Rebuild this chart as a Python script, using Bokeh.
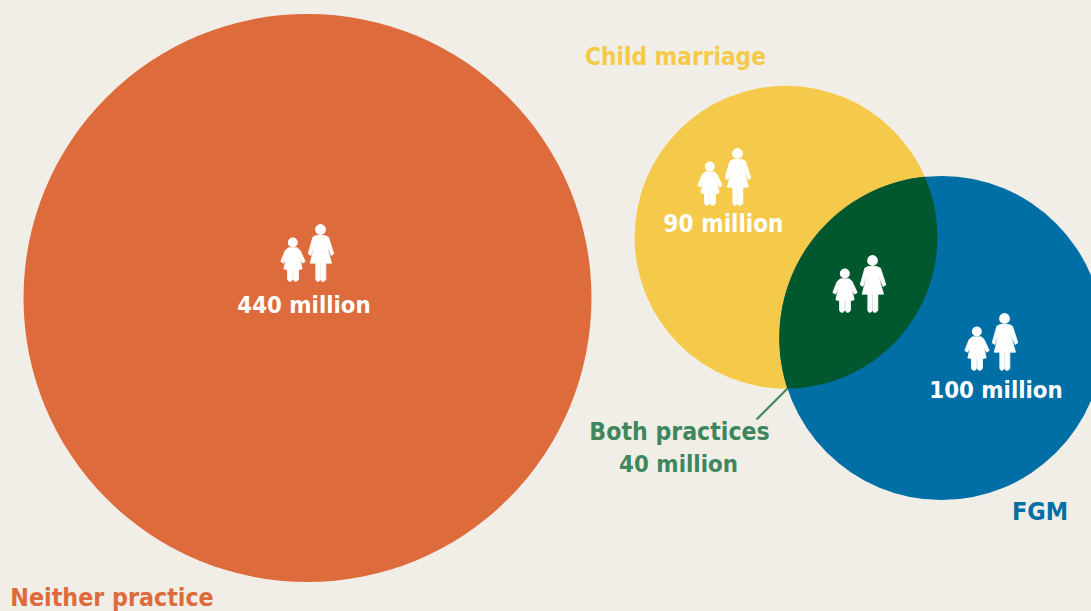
import numpy as np
from bokeh.plotting import figure
from bokeh.models import Range1d, GlobalInlineStyleSheet
from bokeh.core.properties import value
from bokeh.embed import file_html
from bokeh.resources import INLINE

# --- data ---
groups = ["Neither practice", "Child marriage", "FGM", "Both practices"]
millions = [440, 90, 100, 40]
group_labels = ["440 million", "90 million", "100 million"]

# --- layout (reference pixels) ---
W, H = 1091, 611
FONT = "DejaVu Sans Condensed"
BG = "#f1eee8"
ORANGE, YELLOW, BLUE, DARK = "#dd6b3b", "#f5ca4a", "#006fa6", "#02582e"
GREEN_TEXT = "#3e875e"
cx = [308, 786.5, 942]
cy = [297.5, 236.7, 337.5]
radius = [284, 151.4, 162.2]
colors = [ORANGE, YELLOW, BLUE]

p = figure(width=W, height=H, output_backend="svg", toolbar_location=None,
           x_range=Range1d(1, W + 1), y_range=Range1d(H, 0),
           min_border=0, min_border_left=0, min_border_right=0, min_border_top=0, min_border_bottom=0,
           background_fill_color=BG, border_fill_color=BG, outline_line_color=None)
p.axis.visible = False
p.grid.visible = False
p.stylesheets = [GlobalInlineStyleSheet(css=f"html,body{{background:{BG};}}")]

p.circle(x=cx, y=cy, radius=radius, fill_color=colors, line_color=None)

# overlap lens of the two small circles
x1, y1, r1, x2, y2, r2 = cx[1], cy[1], radius[1], cx[2], cy[2], radius[2]
d = np.hypot(x2 - x1, y2 - y1)
base = np.arctan2(y2 - y1, x2 - x1)
half1 = np.arccos((d*d + r1*r1 - r2*r2) / (2*d*r1))
half2 = np.arccos((d*d + r2*r2 - r1*r1) / (2*d*r2))
t1 = np.linspace(base - half1, base + half1, 120)
t2 = np.linspace(base + np.pi - half2, base + np.pi + half2, 120)
lens_x = np.concatenate([x1 + r1*np.cos(t1), x2 + r2*np.cos(t2)])
lens_y = np.concatenate([y1 + r1*np.sin(t1), y2 + r2*np.sin(t2)])
p.patch(lens_x, lens_y, fill_color=DARK, line_color=None)

# leader line
p.line([757, 788], [419, 388], line_color=GREEN_TEXT, line_width=2)

# person icons: outlines relative to the woman's head centre
HEAD = (181, 57)
woman = [(168,75),(194,75),(205,80),(221,130),(213,135),(198,100),(214,158),(197,158),(197,207),(192,212),
         (184,212),(182,207),(182,160),(180,160),(180,207),(176,212),(170,212),(167,207),(167,158),(150,158),
         (165,100),(152,135),(144,130),(158,80)]
child = [(85,112),(111,112),(120,120),(135,153),(127,158),(118,140),(126,175),(115,178),(115,207),(110,212),
         (103,212),(100,207),(100,180),(97,180),(97,207),(93,212),(86,212),(82,207),(82,178),(71,175),
         (79,140),(70,158),(62,153),(75,120)]
icon_heads = [(321, 229), (738, 153), (873, 260), (1005, 318)]
for hx, hy in icon_heads:
    for poly in (woman, child):
        p.patch([hx + (a - HEAD[0]) / 3 for a, _ in poly],
                [hy + (b - HEAD[1]) / 3 for _, b in poly],
                fill_color="white", line_color="white", line_width=0.8)
    p.circle(x=[hx, hx + (98 - HEAD[0]) / 3], y=[hy, hy + (96 - HEAD[1]) / 3],
             radius=[5.4, 5.0], fill_color="white", line_color=None)

def label(x, y, s, color, size):
    p.text(x=[x], y=[y], text=[s], text_color=color, text_font=value(FONT), text_font_style="bold",
           text_font_size=size, text_align="center", text_baseline="middle")

label(304.5, 304, group_labels[0], "white", "23.75px")
label(724, 223, group_labels[1], "white", "24px")
label(996.5, 389, group_labels[2], "white", "23.75px")
label(676, 56, groups[1], YELLOW, "24.2px")
label(1040.5, 511, groups[2], BLUE, "25px")
label(112.5, 597, groups[0], ORANGE, "24.75px")
label(680, 431, groups[3], GREEN_TEXT, "24.6px")
label(679, 463, f"{millions[3]} million", GREEN_TEXT, "23.8px")

open("out.html", "w").write(file_html(p, INLINE))
